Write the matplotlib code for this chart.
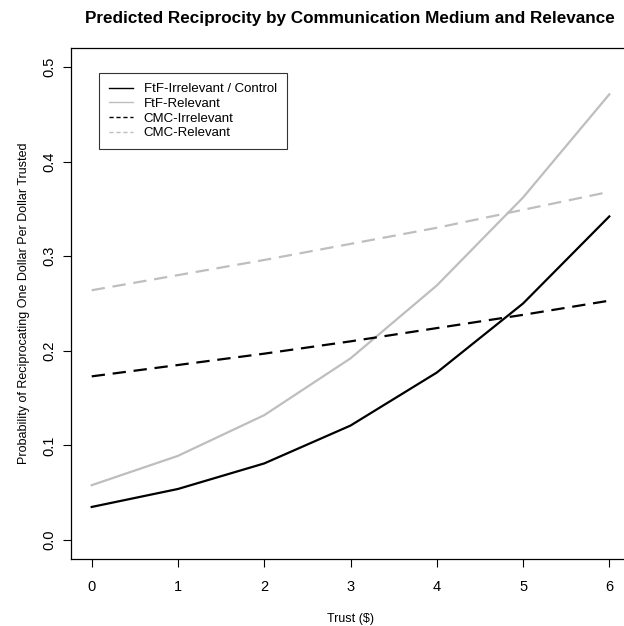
import numpy as np
import matplotlib
matplotlib.use("Agg")
import matplotlib.pyplot as plt
from matplotlib.lines import Line2D

plt.rcParams['font.family'] = ['Liberation Sans', 'DejaVu Sans']

trust = np.array([0, 1, 2, 3, 4, 5, 6])
ftf_irrelevant = np.array([0.035, 0.054, 0.081, 0.121, 0.177, 0.250, 0.342])
ftf_relevant = np.array([0.058, 0.089, 0.132, 0.192, 0.269, 0.362, 0.471])
cmc_irrelevant = np.array([0.173, 0.185, 0.197, 0.210, 0.224, 0.238, 0.253])
cmc_relevant = np.array([0.264, 0.280, 0.296, 0.313, 0.330, 0.349, 0.368])

labels = ["FtF-Irrelevant / Control", "FtF-Relevant", "CMC-Irrelevant", "CMC-Relevant"]
yticks = [0.0, 0.1, 0.2, 0.3, 0.4, 0.5]

fig = plt.figure(figsize=(6.24, 6.26), dpi=100)
ax = fig.add_axes([71/624, 1-559/626, (630-71)/624, (559-48)/626])

gray = '#BEBEBE'
dash = (6, 3.5)
ax.plot(trust, ftf_irrelevant, color='black', lw=1.6)
ax.plot(trust, ftf_relevant, color=gray, lw=1.6)
ax.plot(trust, cmc_irrelevant, color='black', lw=1.6, ls=(0, dash))
ax.plot(trust, cmc_relevant, color=gray, lw=1.6, ls=(0, dash))

ax.set_xlim(-0.24, 6.24)
ax.set_ylim(-0.02, 0.52)
ax.set_xticks(trust)
ax.set_yticks(yticks)
ax.set_yticklabels([f"{v:.1f}" for v in yticks], rotation=90, va='center')
ax.tick_params(direction='out', length=6, width=0.8, labelsize=10.5)
ax.tick_params(axis='x', pad=9)
ax.tick_params(axis='y', pad=4.5)
for s in ax.spines.values():
    s.set_linewidth(0.9)

ax.set_xlabel("Trust ($)", fontsize=9, labelpad=14)
ax.set_ylabel("Probability of Reciprocating One Dollar Per Dollar Trusted", fontsize=9, labelpad=9)
fig.text(350/624, 1-18/626, "Predicted Reciprocity by Communication Medium and Relevance",
         ha='center', va='center', fontsize=12.3, fontweight='bold')

# legend with thin lines like R's default
handles = [Line2D([], [], color='black', lw=1),
           Line2D([], [], color=gray, lw=1),
           Line2D([], [], color='black', lw=1, ls=(0, (3, 2))),
           Line2D([], [], color=gray, lw=1, ls=(0, (3, 2)))]
leg = ax.legend(handles, labels, loc='upper left', bbox_to_anchor=((99-71)/559, 1-(73-48)/511),
                fontsize=9.5, frameon=True, fancybox=False, edgecolor='black',
                handlelength=1.85, handletextpad=0.8, labelspacing=0.19, borderpad=0.75,
                borderaxespad=0)
leg.get_frame().set_linewidth(0.8)

fig.savefig("out.png", dpi=100)
